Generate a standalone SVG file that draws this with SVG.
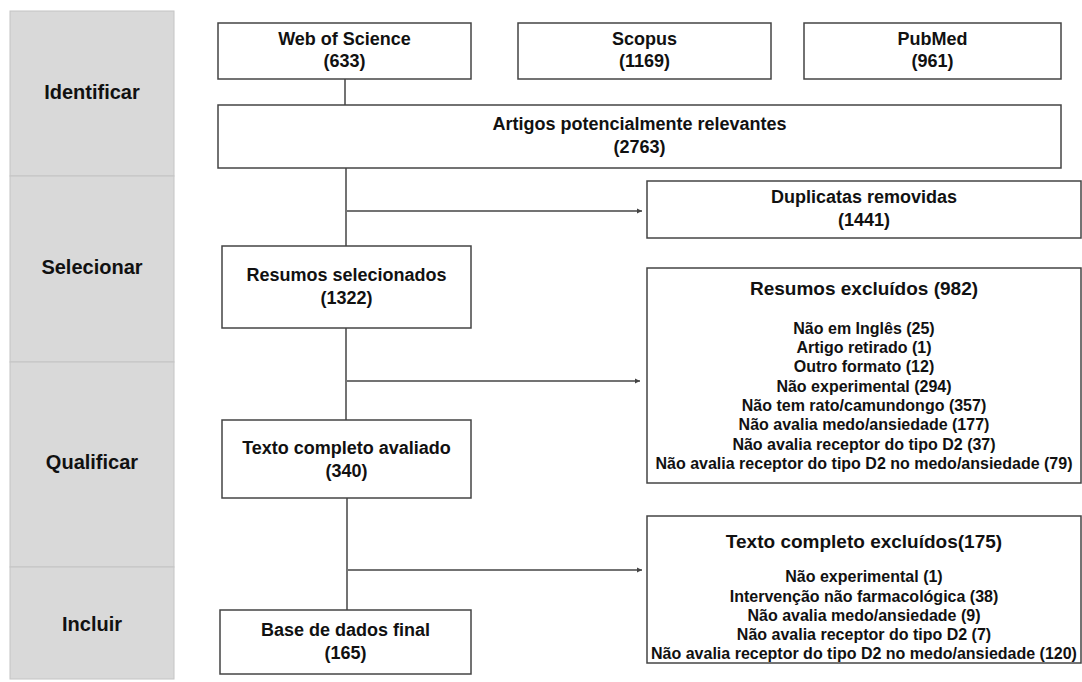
<svg xmlns="http://www.w3.org/2000/svg" width="1082" height="682" viewBox="0 0 1082 682">
<style>
.stage{fill:#d9d9d9;stroke:#c4c4c4;stroke-width:1}
.lbl{font-family:"Liberation Sans",Arial,sans-serif;font-weight:bold;font-size:20px;fill:#111;text-anchor:middle}
.box{fill:#fff;stroke:#444;stroke-width:1.5}
.t{font-family:"Liberation Sans",Arial,sans-serif;font-weight:bold;font-size:18px;fill:#111;text-anchor:middle}
.h{font-family:"Liberation Sans",Arial,sans-serif;font-weight:bold;font-size:19px;fill:#111;text-anchor:middle}
.i{font-family:"Liberation Sans",Arial,sans-serif;font-weight:bold;font-size:16px;fill:#111;text-anchor:middle}
.c{stroke:#444;stroke-width:1.5;fill:none}
</style>
<defs>
<marker id="ah" markerWidth="6" markerHeight="6" refX="5" refY="3" orient="auto" markerUnits="userSpaceOnUse">
<path d="M0,0.5 L5,3 L0,5.5 Z" fill="#444"/>
</marker>
</defs>
<g id="stages">
<rect class="stage" x="10" y="11" width="164" height="165"/>
<rect class="stage" x="10" y="176" width="164" height="186"/>
<rect class="stage" x="10" y="362" width="164" height="205"/>
<rect class="stage" x="10" y="567" width="164" height="112"/>
<text class="lbl" x="92" y="99">Identificar</text>
<text class="lbl" x="92" y="274">Selecionar</text>
<text class="lbl" x="92" y="469">Qualificar</text>
<text class="lbl" x="92" y="631">Incluir</text>
</g>
<g id="connectors">
<line class="c" x1="345" y1="79" x2="345" y2="105"/>
<line class="c" x1="346" y1="168" x2="346" y2="246"/>
<line class="c" x1="346" y1="328" x2="346" y2="420"/>
<line class="c" x1="347" y1="498" x2="347" y2="610"/>
<line class="c" x1="347" y1="211" x2="642" y2="211" marker-end="url(#ah)"/>
<line class="c" x1="347" y1="381" x2="640" y2="381" marker-end="url(#ah)"/>
<line class="c" x1="348" y1="570" x2="642" y2="570" marker-end="url(#ah)"/>
</g>
<g id="wos">
<rect class="box" x="218" y="23" width="253" height="56"/>
<text class="t" x="344.5" y="44.5">Web of Science</text>
<text class="t" x="344.5" y="67">(633)</text>
</g>
<g id="scopus">
<rect class="box" x="518" y="23" width="253" height="56"/>
<text class="t" x="644.5" y="44.5">Scopus</text>
<text class="t" x="644.5" y="67">(1169)</text>
</g>
<g id="pubmed">
<rect class="box" x="804" y="23" width="257" height="56"/>
<text class="t" x="932.5" y="44.5">PubMed</text>
<text class="t" x="932.5" y="67">(961)</text>
</g>
<g id="artigos">
<rect class="box" x="218" y="105" width="843" height="63"/>
<text class="t" x="639.5" y="130">Artigos potencialmente relevantes</text>
<text class="t" x="639.5" y="153">(2763)</text>
</g>
<g id="duplicatas">
<rect class="box" x="647" y="181" width="434" height="57"/>
<text class="t" x="864" y="202.5">Duplicatas removidas</text>
<text class="t" x="864" y="225.5">(1441)</text>
</g>
<g id="resumos-sel">
<rect class="box" x="222" y="246" width="249" height="82"/>
<text class="t" x="346.5" y="280.5">Resumos selecionados</text>
<text class="t" x="346.5" y="304">(1322)</text>
</g>
<g id="resumos-exc">
<rect class="box" x="647" y="268" width="434" height="215"/>
<text class="h" x="864" y="295">Resumos excluídos (982)</text>
<text class="i" x="864" y="333.5">Não em Inglês (25)</text>
<text class="i" x="864" y="353">Artigo retirado (1)</text>
<text class="i" x="864" y="372">Outro formato (12)</text>
<text class="i" x="864" y="391.5">Não experimental (294)</text>
<text class="i" x="864" y="411">Não tem rato/camundongo (357)</text>
<text class="i" x="864" y="430">Não avalia medo/ansiedade (177)</text>
<text class="i" x="864" y="449.5">Não avalia receptor do tipo D2 (37)</text>
<text class="i" x="864" y="469">Não avalia receptor do tipo D2 no medo/ansiedade (79)</text>
</g>
<g id="texto-aval">
<rect class="box" x="222" y="420" width="249" height="78"/>
<text class="t" x="346.5" y="453.5">Texto completo avaliado</text>
<text class="t" x="346.5" y="477">(340)</text>
</g>
<g id="texto-exc">
<rect class="box" x="647" y="516" width="434" height="147"/>
<text class="h" x="864" y="548">Texto completo excluídos(175)</text>
<text class="i" x="864" y="582">Não experimental (1)</text>
<text class="i" x="864" y="601.5">Intervenção não farmacológica (38)</text>
<text class="i" x="864" y="620.5">Não avalia medo/ansiedade (9)</text>
<text class="i" x="864" y="640">Não avalia receptor do tipo D2 (7)</text>
<text class="i" x="864" y="659">Não avalia receptor do tipo D2 no medo/ansiedade (120)</text>
</g>
<g id="base-final">
<rect class="box" x="220" y="610" width="251" height="64"/>
<text class="t" x="345.5" y="635.5">Base de dados final</text>
<text class="t" x="345.5" y="658.5">(165)</text>
</g>
</svg>
